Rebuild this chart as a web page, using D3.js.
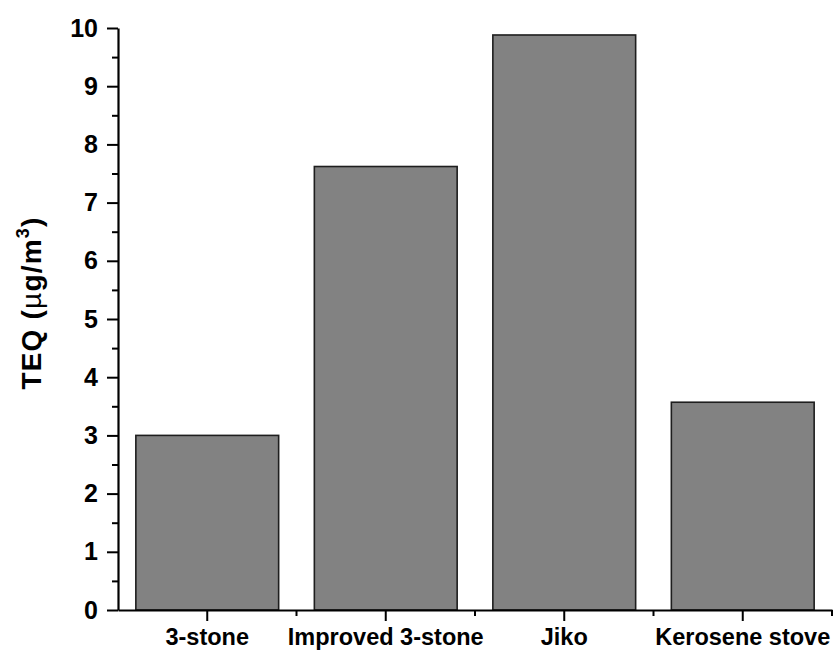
<!DOCTYPE html>
<html>
<head>
<meta charset="utf-8">
<script src="https://cdn.jsdelivr.net/npm/d3@7"></script>
<style>
  html, body { margin: 0; padding: 0; background: #fff; }
  svg { display: block; }
  .axis text { font-family: "Liberation Sans", Arial, sans-serif; font-weight: bold; fill: #000; }
</style>
</head>
<body>
<svg id="chart" width="833" height="650"></svg>
<script>
// Stove types and their TEQ concentrations (µg/m³)
const categories = ["3-stone", "Improved 3-stone", "Jiko", "Kerosene stove"];
const teqValues = [3.0, 7.62, 9.88, 3.57];
const yTicks = [0, 1, 2, 3, 4, 5, 6, 7, 8, 9, 10];
const yMinorTicks = [0.5, 1.5, 2.5, 3.5, 4.5, 5.5, 6.5, 7.5, 8.5, 9.5];

const svg = d3.select("#chart");
const plot = { left: 118, right: 832, top: 28, bottom: 610 };

const x = d3.scaleBand()
  .domain(categories)
  .range([plot.left, plot.right])
  .paddingInner(0.2)
  .paddingOuter(0.1);

const y = d3.scaleLinear()
  .domain([0, 10])
  .range([plot.bottom, plot.top]);

// Bars
svg.append("g")
  .selectAll("rect")
  .data(categories.map((c, i) => ({ c, v: teqValues[i] })))
  .join("rect")
  .attr("x", d => x(d.c))
  .attr("y", d => y(d.v))
  .attr("width", x.bandwidth())
  .attr("height", d => y(0) - y(d.v))
  .attr("fill", "#828282")
  .attr("stroke", "#1e1e1e")
  .attr("stroke-width", 1.6);

// Y axis: major ticks with labels, minor ticks at half units
const yAxis = svg.append("g")
  .attr("class", "axis")
  .attr("transform", `translate(${plot.left},0)`)
  .call(d3.axisLeft(y).tickValues(yTicks).tickFormat(d3.format("d")).tickSize(11).tickSizeOuter(0).tickPadding(9));
yAxis.selectAll("text").attr("font-size", 25);

svg.append("g")
  .attr("transform", `translate(${plot.left},0)`)
  .call(d3.axisLeft(y).tickValues(yMinorTicks).tickFormat("").tickSize(6).tickSizeOuter(0))
  .call(g => g.select(".domain").remove());

// X axis: major ticks at category centres, minor ticks at category boundaries
const xAxis = svg.append("g")
  .attr("class", "axis")
  .attr("transform", `translate(0,${plot.bottom})`)
  .call(d3.axisBottom(x).tickSize(11).tickSizeOuter(0).tickPadding(7));
xAxis.selectAll("text").attr("font-size", 23.5);

const boundaries = categories.map(c => x(c) + x.bandwidth() + x.step() * x.paddingInner() / 2);
svg.append("g")
  .attr("transform", `translate(0,${plot.bottom})`)
  .selectAll("line")
  .data(boundaries)
  .join("line")
  .attr("x1", d => d).attr("x2", d => d)
  .attr("y1", 0).attr("y2", 6)
  .attr("stroke", "#000")
  .attr("stroke-width", 2);

svg.selectAll(".domain").attr("stroke-width", 2.2);
svg.selectAll(".tick line").attr("stroke-width", 2);

// Y axis title
const title = svg.append("text")
  .attr("transform", `translate(41,${(plot.top + plot.bottom) / 2 - 16}) rotate(-90)`)
  .attr("text-anchor", "middle")
  .attr("font-family", "'Liberation Sans', Arial, sans-serif")
  .attr("font-weight", "bold")
  .attr("font-size", 28)
  .attr("letter-spacing", 1.2)
  .attr("fill", "#000");
title.append("tspan").text("TEQ (");
title.append("tspan").attr("font-weight", "normal").text("µ");
title.append("tspan").text("g/m");
title.append("tspan").attr("font-size", 18).attr("dy", -12).text("3");
title.append("tspan").attr("dy", 12).text(")");
</script>
</body>
</html>
